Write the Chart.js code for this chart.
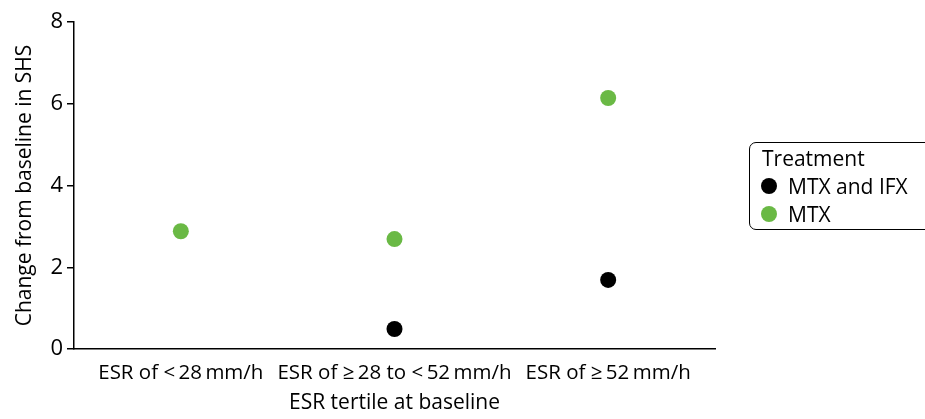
<!DOCTYPE html>
<html>
<head>
<meta charset="utf-8">
<script src="https://cdn.jsdelivr.net/npm/chart.js@4"></script>
<style>
  body { margin: 0; background: #fff; font-family: "Open Sans", sans-serif; }
  #wrap { position: relative; width: 925px; height: 419px; }
  #legend {
    position: absolute; left: 749px; top: 142px; width: 190px; height: 88px;
    border: 1.5px solid #000; border-radius: 7px; box-sizing: border-box;
    padding: 1px 0 0 12px; font-size: 21px; line-height: 28px; color: #000;
  }
  #legend .item { display: flex; align-items: center; margin-left: -1px; }
  #legend .dot { width: 16px; height: 16px; border-radius: 50%; margin-right: 11px; }
</style>
</head>
<body>
<div id="wrap">
  <canvas id="chart" width="925" height="419"></canvas>
  <div id="legend"></div>
</div>
<script>
// Categories and values
const categories = ['ESR of <\u200928\u2009mm/h', 'ESR of \u2265\u200928 to <\u200952\u2009mm/h', 'ESR of \u2265\u200952\u2009mm/h'];
const mtxIfx = [null, 0.49, 1.69];
const mtxOnly = [2.88, 2.69, 6.14];
const yTicks = [0, 2, 4, 6, 8];

const GREEN = '#6ab945';
const BLACK = '#000000';
const FONT = 'Open Sans';

const series = [
  { label: 'MTX and IFX', data: mtxIfx, color: BLACK },
  { label: 'MTX', data: mtxOnly, color: GREEN }
];

// html legend with box
const legend = document.getElementById('legend');
legend.innerHTML = '<div>Treatment</div>' + series.map(s =>
  `<div class="item"><span class="dot" style="background:${s.color}"></span>${s.label}</div>`
).join('');

const ctx = document.getElementById('chart').getContext('2d');
new Chart(ctx, {
  type: 'line',
  data: {
    labels: categories,
    datasets: series.map(s => ({
      label: s.label,
      data: s.data,
      showLine: false,
      pointRadius: 8,
      pointHoverRadius: 8,
      pointBackgroundColor: s.color,
      pointBorderColor: s.color,
      pointBorderWidth: 0
    }))
  },
  options: {
    responsive: false,
    animation: false,
    layout: { padding: { top: 22, right: 210, left: 0, bottom: 0 } },
    plugins: { legend: { display: false }, tooltip: { enabled: false } },
    scales: {
      x: {
        offset: true,
        grid: { display: false, drawTicks: false },
        border: { color: '#000', width: 1.5 },
        ticks: { color: '#000', font: { family: FONT, size: 20.5 }, padding: 12, maxRotation: 0, autoSkip: false },
        title: { display: true, text: 'ESR tertile at baseline', color: '#000', font: { family: FONT, size: 21 }, padding: { top: 0, bottom: 3 } },
        afterFit: s => { s.height = 70; }
      },
      y: {
        min: 0, max: 8,
        afterBuildTicks: s => { s.ticks = yTicks.map(v => ({ value: v })); },
        grid: { drawOnChartArea: false, drawTicks: true, tickLength: 7, color: '#000', lineWidth: 1.5 },
        border: { color: '#000', width: 1.5 },
        ticks: { color: '#000', font: { family: FONT, size: 22 }, padding: 4 },
        title: { display: true, text: 'Change from baseline in SHS', color: '#000', font: { family: FONT, size: 21 }, padding: { top: 12, bottom: 0 } },
        afterFit: s => { s.width = 74; }
      }
    }
  }
});
</script>
</body>
</html>
